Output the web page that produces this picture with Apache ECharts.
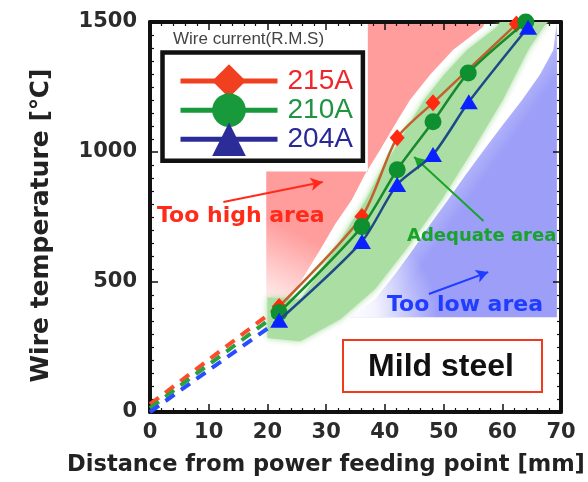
<!DOCTYPE html>
<html><head><meta charset="utf-8">
<script src="https://cdn.jsdelivr.net/npm/echarts@6/dist/echarts.min.js"></script>
<style>html,body{margin:0;padding:0;background:#fff}#chart{width:588px;height:482px}</style>
</head><body><div id="chart"></div>
<script>
// Wire temperature along the wire, measured for three R.M.S. wire currents
const xTicks = [0, 10, 20, 30, 40, 50, 60, 70];
const yTicks = [0, 500, 1000, 1500];
const currents = ['215A', '210A', '204A'];

const dist215 = [22, 36.1, 42.1, 48.2, 62.4];
const temp215 = [406, 752, 1055, 1189, 1492];
const dist210 = [22, 36.1, 42.1, 48.2, 54.2, 64.0];
const temp210 = [383, 713, 932, 1116, 1304, 1500];
const dist204 = [22, 36.1, 42.1, 48.2, 54.3, 64.4];
const temp204 = [353, 656, 875, 990, 1193, 1480];

// estimated (dashed) part between the feeding point and the first measurement
const extDist = [0, 22];
const ext215 = [30, 406];
const ext210 = [15, 383];
const ext204 = [0, 353];

// "Too high" region outline
const highX = [37.1, 57.1, 56.7, 51.6, 47.7, 44.3, 41.7, 39.2, 36.6, 34.4, 31.5, 29.0, 26.4, 23.9, 19.8, 19.8, 37.1];
const highY = [1500, 1500, 1481, 1392, 1297, 1201, 1105, 1009, 913, 817, 721, 625, 529, 433, 433, 925, 925];

// "Adequate" band outline
const goodX = [59.6, 67.8, 67.0, 64.4, 60.1, 55.0, 49.7, 43.6, 38.3, 32.4, 25.6, 20.0, 20.0, 25.6, 28.6, 31.5, 34.1, 36.8, 39.0, 41.6, 44.1, 46.7, 50.1, 54.0, 59.1];
const goodY = [1500, 1500, 1481, 1392, 1201, 1009, 817, 625, 472, 357, 272, 285, 440, 433, 529, 625, 721, 817, 913, 1009, 1105, 1201, 1297, 1392, 1481];

// "Too low" region outline
const lowX = [69.3, 69.3, 34.1, 38.3, 41.7, 44.8, 47.7, 50.8, 53.8, 56.9, 60.1, 63.4, 66.4, 68.7, 69.3];
const lowY = [1500, 364, 364, 433, 529, 625, 721, 817, 913, 1009, 1105, 1201, 1297, 1392, 1500];
// white fade over the lower-left corner of the "Too low" region
const fadeX = [33, 56, 56, 33];
const fadeY = [364, 364, 680, 680];

const pair = (xs, ys) => xs.map((x, i) => [x, ys[i]]);

function regionSeries(xs, ys, style, z) {
  return {
    type: 'custom', silent: true, z: z, clip: true,
    data: [[0, 0]],
    renderItem: (params, api) => ({
      type: 'polygon',
      shape: { points: xs.map((x, i) => api.coord([x, ys[i]])) },
      style: style
    })
  };
}

const G = echarts.graphic;
const pinkFill = new G.LinearGradient(0.15, 0.76, 0.0, 1.0, [
  { offset: 0, color: '#ff9c9c' }, { offset: 1, color: 'rgba(255,238,238,1)' }]);
const blueFill = new G.LinearGradient(0.5, 0.5, 0.62, 0.56, [
  { offset: 0, color: '#bfc1fb' }, { offset: 1, color: '#9c9ef8' }]);
const fadeFill = new G.RadialGradient(0, 1, 1.15, [
  { offset: 0, color: 'rgba(255,255,255,1)' }, { offset: 0.35, color: 'rgba(255,255,255,0.85)' },
  { offset: 1, color: 'rgba(255,255,255,0)' }]);
const greenFill = '#aadea2';

const tickFont = { fontFamily: 'DejaVu Sans', fontWeight: 'bold', fontSize: 21, color: '#2b2b2b' };
const frameLine = { show: true, onZero: false, lineStyle: { color: '#111', width: 4 } };

function valueAxis(extra) {
  return Object.assign({
    type: 'value',
    axisLine: frameLine,
    axisTick: { show: true, inside: true, length: 8, lineStyle: { color: '#111', width: 1.5 } },
    splitLine: { show: false },
    minorSplitLine: { show: false }
  }, extra);
}
const minor = (n) => ({ show: true, splitNumber: n, length: 4, lineStyle: { color: '#111', width: 1.2 } });

const solid = (name, xs, ys, lineColor, markColor, symbol, size, z) => ({
  name: name, type: 'line', data: pair(xs, ys), smooth: 0.25, clip: false, z: z,
  symbol: symbol, symbolSize: size,
  lineStyle: { color: lineColor, width: 2.5 },
  itemStyle: { color: markColor }
});
const dashed = (name, ys, color) => ({
  name: name, type: 'line', data: pair(extDist, ys), symbol: 'none', z: 3,
  lineStyle: { color: color, width: 4, type: [11, 8] }
});

const chart = echarts.init(document.getElementById('chart'), null, { renderer: 'canvas' });
chart.setOption({
  animation: false,
  backgroundColor: '#fff',
  grid: { left: 150, top: 22, width: 411, height: 391 },
  title: {
    text: 'Wire current(R.M.S)', left: 168, top: 26,
    textStyle: { fontFamily: 'Liberation Sans', fontSize: 17, fontWeight: 'normal', color: '#444' }
  },
  legend: {
    orient: 'vertical', left: 162.5, top: 52.5, selectedMode: false,
    padding: [11.75, 10, 4.75, 15.5], itemWidth: 97, itemHeight: 42, itemGap: -4.5,
    borderColor: '#111', borderWidth: 4.5, backgroundColor: '#fff',
    textStyle: { fontFamily: 'Liberation Sans', fontSize: 28, padding: [0, 0, 0, 5] },
    data: [
      { name: currents[0], textStyle: { color: '#f0262a' }, lineStyle: { color: '#f0401f', width: 5 }, itemStyle: { color: '#f0401f' } },
      { name: currents[1], textStyle: { color: '#1e9440' }, lineStyle: { color: '#17993c', width: 5 }, itemStyle: { color: '#17993c' } },
      { name: currents[2], textStyle: { color: '#2a2896' }, lineStyle: { color: '#2c2c99', width: 5 }, itemStyle: { color: '#2c2c99' } }
    ]
  },
  xAxis: [
    valueAxis({ min: xTicks[0], max: xTicks[xTicks.length - 1], interval: 10, position: 'bottom',
      minorTick: minor(5),
      axisLabel: Object.assign({ margin: 10 }, tickFont),
      name: 'Distance from power feeding point [mm]', nameLocation: 'middle', nameGap: 42,
      nameTextStyle: { fontFamily: 'DejaVu Sans', fontWeight: 'bold', fontSize: 22.5, color: '#222', padding: [0, 59, 0, 0] } }),
    valueAxis({ min: xTicks[0], max: xTicks[xTicks.length - 1], interval: 10, position: 'top',
      minorTick: minor(5), axisLabel: { show: false } })
  ],
  yAxis: [
    valueAxis({ min: yTicks[0], max: yTicks[yTicks.length - 1], interval: 500, position: 'left',
      minorTick: minor(10),
      axisLabel: Object.assign({ margin: 13, formatter: (v) => String(v) }, tickFont),
      name: 'Wire temperature [℃]', nameLocation: 'middle', nameGap: 96,
      nameTextStyle: { fontFamily: 'DejaVu Sans', fontWeight: 'bold', fontSize: 25, color: '#222', padding: [0, 17, 0, 0] } }),
    valueAxis({ min: yTicks[0], max: yTicks[yTicks.length - 1], interval: 500, position: 'right',
      minorTick: minor(10), axisLabel: { show: false } })
  ],
  series: [
    regionSeries(highX, highY, { fill: pinkFill }, 0),
    regionSeries(lowX, lowY, { fill: blueFill }, 0),
    regionSeries(fadeX, fadeY, { fill: fadeFill }, 0),
    regionSeries(goodX, goodY, { fill: greenFill, shadowBlur: 6, shadowColor: 'rgba(150,215,140,0.9)' }, 1),
    solid(currents[0], dist215, temp215, '#c0622c', '#ff2a10', 'diamond', [15, 17], 4),
    solid(currents[1], dist210, temp210, '#168a2c', '#0e9030', 'circle', 17, 5),
    solid(currents[2], dist204, temp204, '#1d4a86', '#0a22ff', 'triangle', [18, 15], 6),
    dashed(currents[0], ext215, '#ff4a2a'),
    dashed(currents[1], ext210, '#2aa040'),
    dashed(currents[2], ext204, '#2a4cff'),
    {
      type: 'line', data: [], silent: true, z: 7,
      markLine: {
        silent: true, symbol: ['none', 'arrow'], symbolSize: [10, 12],
        label: { show: false }, lineStyle: { type: 'solid', width: 2 },
        data: [
          [{ coord: [12.5, 808], lineStyle: { color: '#ff2a1a' } }, { coord: [29.4, 885] }],
          [{ coord: [56.8, 735], lineStyle: { color: '#1aa32a' } }, { coord: [45.0, 981] }],
          [{ coord: [47.5, 454], lineStyle: { color: '#1f3cff' } }, { coord: [57.6, 538] }]
        ]
      }
    }
  ],
  graphic: [
    { type: 'text', x: 157, y: 216, z: 10, style: { text: 'Too high area', fontFamily: 'DejaVu Sans', fontWeight: 'bold', fontSize: 22, fill: '#ff2a1a', verticalAlign: 'middle' } },
    { type: 'text', x: 407, y: 236, z: 10, style: { text: 'Adequate area', fontFamily: 'DejaVu Sans', fontWeight: 'bold', fontSize: 18, fill: '#1aa32a', verticalAlign: 'middle' } },
    { type: 'text', x: 387, y: 305, z: 10, style: { text: 'Too low area', fontFamily: 'DejaVu Sans', fontWeight: 'bold', fontSize: 22, fill: '#1f3cff', verticalAlign: 'middle' } },
    { type: 'rect', z: 10, shape: { x: 343, y: 340, width: 199, height: 52 }, style: { fill: '#fff', stroke: '#f03a1e', lineWidth: 2 } },
    { type: 'text', x: 441, y: 367, z: 11, style: { text: 'Mild steel', fontFamily: 'Liberation Sans', fontWeight: 'bold', fontSize: 32, fill: '#111', align: 'center', verticalAlign: 'middle' } }
  ]
});
</script></body></html>
